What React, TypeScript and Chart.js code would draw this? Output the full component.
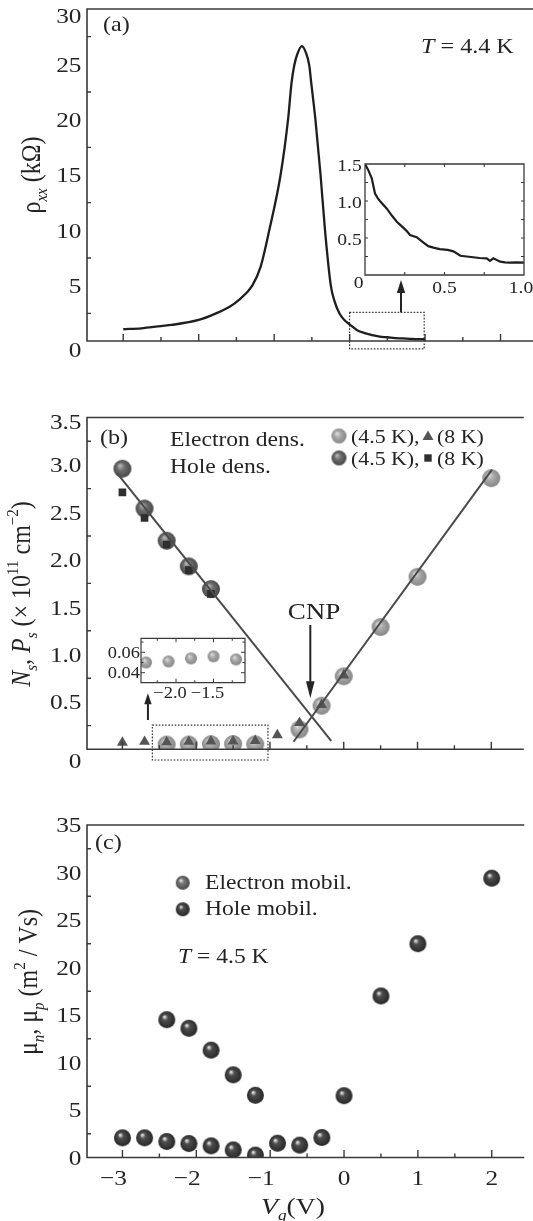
import React, { useEffect, useRef } from "react";
import { Chart, registerables } from "chart.js";

Chart.register(...registerables);

const SERIF = '"Liberation Serif", "Times New Roman", Times, serif';
const INK = "#242424";
const AXIS = "#3a3a3a";
const SX = 1.15; // horizontal stretch of the lettering in the reference

// ---------- shared gate-voltage axis (V) ----------
const VG_RANGE = [-3.48, 2.43];
const VG_TICK_LABELS = [-3, -2, -1, 0, 1, 2];
const VG_TICKS = [-3, -2.5, -2, -1.5, -1, -0.5, 0, 0.5, 1, 1.5, 2];

// ---------- (a) rho_xx vs Vg ----------
const A_VG = [-3.0, -2.76, -2.5, -2.36, -2.0, -1.77, -1.59, -1.47, -1.29, -1.18, -1.065, -0.915, -0.816, -0.77, -0.734, -0.689, -0.634, -0.576, -0.535, -0.508, -0.453, -0.385, -0.326, -0.249, -0.2, -0.136, -0.07, 0, 0.1, 0.2, 0.3, 0.4, 0.5, 0.6, 0.7, 0.8, 0.9, 1.0];
const A_RHO = [1.06, 1.15, 1.35, 1.45, 1.9, 2.5, 3.1, 3.7, 5.0, 6.7, 10.0, 15.0, 20.0, 23.3, 24.9, 26.0, 26.65, 26.0, 24.9, 23.3, 20.0, 15.0, 10.0, 5.0, 3.6, 2.5, 1.9, 1.5, 0.98, 0.72, 0.54, 0.39, 0.34, 0.26, 0.235, 0.2, 0.17, 0.167];
const A_Y_LABELS = [0, 5, 10, 15, 20, 25, 30];
const A_Y_MINOR = [2.5, 7.5, 12.5, 17.5, 22.5, 27.5];
const A_INSET_VG = [0, 0.02, 0.042, 0.063, 0.08, 0.094, 0.136, 0.17, 0.2, 0.23, 0.26, 0.283, 0.325, 0.36, 0.398, 0.43, 0.47, 0.52, 0.556, 0.6, 0.64, 0.68, 0.72, 0.765, 0.786, 0.807, 0.85, 0.88, 0.91, 0.95, 1.0];
const A_INSET_RHO = [1.5, 1.42, 1.31, 1.1, 1.04, 1.0, 0.9, 0.8, 0.72, 0.66, 0.6, 0.54, 0.51, 0.45, 0.39, 0.37, 0.35, 0.34, 0.32, 0.26, 0.25, 0.24, 0.23, 0.225, 0.19, 0.225, 0.18, 0.17, 0.167, 0.17, 0.167];
const A_INSET_Y_LABELS = [0.5, 1.0, 1.5];
const A_INSET_X_LABELS = [0.5, 1.0];
const A_INSET_TICKS = [0.25, 0.5, 0.75, 1.0, 1.25];

// ---------- (b) carrier densities (1e11 cm^-2) ----------
const B_HOLE_VG = [-3.0, -2.7, -2.4, -2.1, -1.8];
const B_HOLE_45K = [2.96, 2.54, 2.2, 1.93, 1.69];
const B_HOLE_8K = [2.71, 2.44, 2.16, 1.89, 1.64];
const B_ELEC_VG_45K = [-2.4, -2.1, -1.8, -1.5, -1.2, -0.6, -0.3, 0, 0.5, 1.0, 2.0];
const B_ELEC_45K = [0.05, 0.051, 0.054, 0.056, 0.053, 0.21, 0.46, 0.77, 1.29, 1.82, 2.86];
const B_ELEC_VG_8K = [-3.0, -2.7, -2.4, -2.1, -1.8, -1.5, -1.2, -0.9, -0.6, -0.3, 0];
const B_ELEC_8K = [0.07, 0.08, 0.075, 0.08, 0.085, 0.085, 0.09, 0.15, 0.28, 0.47, 0.78];
const B_HOLE_FIT_VG = [-3.07, -0.17];
const B_HOLE_FIT = [2.91, 0.09];
const B_ELEC_FIT_VG = [-0.68, 2.01];
const B_ELEC_FIT = [0.08, 2.95];
const B_Y_LABELS = [0, 0.5, 1.0, 1.5, 2.0, 2.5, 3.0, 3.5];
const B_Y_MINOR = [0.25, 0.75, 1.25, 1.75, 2.25, 2.75, 3.25];
const B_INSET_POINTS = 5; // the five low 4.5 K electron points
const B_INSET_Y_LABELS = [0.04, 0.06];
const B_INSET_X_LABELS = [-2.0, -1.5];
const B_INSET_X_TICKS = [-2.25, -2.0, -1.75, -1.5, -1.25];
const B_INSET_Y_TICKS = [0.04, 0.05, 0.06, 0.07];

// ---------- (c) mobilities (m^2/Vs) ----------
const C_ELEC_VG = [-2.4, -2.1, -1.8, -1.5, -1.2, -0.9, -0.6, -0.3, 0, 0.5, 1.0, 2.0];
const C_ELEC_MU = [14.5, 13.6, 11.3, 8.7, 6.55, 1.5, 1.3, 2.1, 6.5, 17.0, 22.5, 29.4];
const C_HOLE_VG = [-3.0, -2.7, -2.4, -2.1, -1.8, -1.5, -1.2];
const C_HOLE_MU = [2.07, 2.07, 1.68, 1.47, 1.23, 0.8, 0.25];
const C_Y_LABELS = [0, 5, 10, 15, 20, 25, 30, 35];
const C_Y_MINOR = [2.5, 7.5, 12.5, 17.5, 22.5, 27.5, 32.5];

// ---------- texts ----------
type Seg = { t: string; i?: boolean; sub?: boolean; sup?: boolean };
const A_TITLE: Seg[] = [{ t: "ρ" }, { t: "xx", i: true, sub: true }, { t: " (kΩ)" }];
const A_TEMP: Seg[] = [{ t: "T", i: true }, { t: " = 4.4 K" }];
const B_TITLE: Seg[] = [
  { t: "N", i: true }, { t: "s", i: true, sub: true }, { t: ", " },
  { t: "P", i: true }, { t: "s", i: true, sub: true }, { t: " (× 10" },
  { t: "11", sup: true }, { t: " cm" }, { t: "−2", sup: true }, { t: ")" },
];
const C_TITLE: Seg[] = [
  { t: "μ" }, { t: "n", i: true, sub: true }, { t: ", μ" }, { t: "p", i: true, sub: true },
  { t: " (m" }, { t: "2", sup: true }, { t: " / Vs)" },
];
const C_XTITLE: Seg[] = [{ t: "V", i: true }, { t: "g", i: true, sub: true }, { t: "(V)" }];
const C_TEMP: Seg[] = [{ t: "T", i: true }, { t: " = 4.5 K" }];

const pts = (xs: number[], ys: number[]) => xs.map((x, i) => ({ x, y: ys[i] }));
const fmt = (v: number, d: number) => (v === 0 ? "0" : (v < 0 ? "−" : "") + Math.abs(v).toFixed(d));

function rich(ctx: CanvasRenderingContext2D, segs: Seg[], x: number, y: number, size: number,
  align: "left" | "center" | "right" = "left", rot = 0, sx = SX) {
  ctx.save();
  ctx.translate(x, y);
  ctx.scale(sx, 1);
  if (rot) ctx.rotate(rot);
  ctx.fillStyle = INK;
  ctx.textBaseline = "alphabetic";
  ctx.textAlign = "left";
  const parts = segs.map((s) => {
    const fs = s.sub || s.sup ? Math.round(size * 0.62) : size;
    const font = `${s.i ? "italic " : ""}${fs}px ${SERIF}`;
    ctx.font = font;
    return { t: s.t, font, w: ctx.measureText(s.t).width, dy: s.sub ? size * 0.24 : s.sup ? -size * 0.42 : 0 };
  });
  const total = parts.reduce((a, p) => a + p.w, 0);
  let cx = align === "center" ? -total / 2 : align === "right" ? -total : 0;
  for (const p of parts) {
    ctx.font = p.font;
    ctx.fillText(p.t, cx, p.dy);
    cx += p.w;
  }
  ctx.restore();
}
const txt = (ctx: CanvasRenderingContext2D, t: string, x: number, y: number, size: number, align: "left" | "center" | "right" = "left") =>
  rich(ctx, [{ t }], x, y, size, align);

function frame(chart: any, sides: { top?: boolean; right?: boolean }, lw: number) {
  const { ctx, chartArea: a } = chart;
  ctx.save();
  ctx.strokeStyle = AXIS;
  ctx.lineWidth = lw;
  ctx.lineCap = "square";
  ctx.beginPath();
  ctx.moveTo(a.left, a.top);
  ctx.lineTo(a.left, a.bottom);
  ctx.lineTo(a.right, a.bottom);
  if (sides.right) ctx.lineTo(a.right, a.top);
  if (sides.top) {
    ctx.moveTo(a.left, a.top);
    ctx.lineTo(a.right, a.top);
  }
  ctx.stroke();
  ctx.restore();
}
function xTicks(chart: any, vals: number[], len: (v: number) => number, edges: ("top" | "bottom")[], lw: number) {
  const { ctx, chartArea: a } = chart;
  const xs = chart.scales.x;
  ctx.save();
  ctx.strokeStyle = AXIS;
  ctx.lineWidth = lw;
  ctx.beginPath();
  for (const v of vals) {
    const x = xs.getPixelForValue(v);
    const L = len(v);
    if (edges.includes("bottom")) { ctx.moveTo(x, a.bottom); ctx.lineTo(x, a.bottom - L); }
    if (edges.includes("top")) { ctx.moveTo(x, a.top); ctx.lineTo(x, a.top + L); }
  }
  ctx.stroke();
  ctx.restore();
}
function yTicks(chart: any, vals: number[], len: (v: number) => number, edges: ("left" | "right")[], lw: number) {
  const { ctx, chartArea: a } = chart;
  const ys = chart.scales.y;
  ctx.save();
  ctx.strokeStyle = AXIS;
  ctx.lineWidth = lw;
  ctx.beginPath();
  for (const v of vals) {
    const y = ys.getPixelForValue(v);
    const L = len(v);
    if (edges.includes("left")) { ctx.moveTo(a.left, y); ctx.lineTo(a.left + L, y); }
    if (edges.includes("right")) { ctx.moveTo(a.right, y); ctx.lineTo(a.right - L, y); }
  }
  ctx.stroke();
  ctx.restore();
}
function vArrow(ctx: CanvasRenderingContext2D, x: number, yTail: number, yTip: number, head: number, half: number, lw: number) {
  const dir = Math.sign(yTip - yTail);
  ctx.save();
  ctx.strokeStyle = INK;
  ctx.fillStyle = INK;
  ctx.lineWidth = lw;
  ctx.beginPath();
  ctx.moveTo(x, yTail);
  ctx.lineTo(x, yTip - dir * head * 0.7);
  ctx.stroke();
  ctx.beginPath();
  ctx.moveTo(x, yTip);
  ctx.lineTo(x - half, yTip - dir * head);
  ctx.lineTo(x + half, yTip - dir * head);
  ctx.closePath();
  ctx.fill();
  ctx.restore();
}
function dotted(ctx: CanvasRenderingContext2D, x1: number, y1: number, x2: number, y2: number) {
  ctx.save();
  ctx.strokeStyle = "#333";
  ctx.lineWidth = 1.2;
  ctx.setLineDash([1.6, 1.6]);
  ctx.strokeRect(Math.min(x1, x2), Math.min(y1, y2), Math.abs(x2 - x1), Math.abs(y2 - y1));
  ctx.restore();
}

function sphere(r: number, stops: [number, string][]) {
  const c = document.createElement("canvas");
  const s = Math.ceil(2 * r + 2);
  c.width = s;
  c.height = s;
  const g = c.getContext("2d")!;
  const cx = s / 2, cy = s / 2;
  const grad = g.createRadialGradient(cx - 0.3 * r, cy - 0.38 * r, 0, cx, cy, r * 1.02);
  for (const [o, col] of stops) grad.addColorStop(o, col);
  g.fillStyle = grad;
  g.beginPath();
  g.arc(cx, cy, r, 0, Math.PI * 2);
  g.fill();
  return c;
}
const LIGHT: [number, string][] = [[0, "#e4e4e4"], [0.45, "#a8a8a8"], [1, "#858585"]];
const MID: [number, string][] = [[0, "#c0c0c0"], [0.45, "#6c6c6c"], [1, "#464646"]];
const DARK: [number, string][] = [[0, "#ffffff"], [0.13, "#bdbdbd"], [0.33, "#4e4e4e"], [1, "#262626"]];
const DARK2: [number, string][] = [[0, "#ffffff"], [0.13, "#d0d0d0"], [0.35, "#7a7a7a"], [1, "#464646"]];

function base(pad: any, xr: number[], yr: number[]) {
  return {
    responsive: false,
    animation: false as const,
    devicePixelRatio: 1,
    events: [] as any[],
    layout: { padding: pad },
    plugins: { legend: { display: false }, tooltip: { enabled: false } },
    scales: {
      x: { type: "linear" as const, min: xr[0], max: xr[1], display: false },
      y: { type: "linear" as const, min: yr[0], max: yr[1], display: false },
    },
  };
}

function yLabels(chart: any, vals: number[], digits: number, right: number, size: number, shift: (v: number) => number) {
  const ys = chart.scales.y;
  for (const v of vals) txt(chart.ctx, fmt(v, digits), right, ys.getPixelForValue(v) + shift(v) + size * 0.34, size, "right");
}

// ---------------- panel builders ----------------
function makeA(cv: HTMLCanvasElement) {
  const OY = 0;
  return new Chart(cv, {
    type: "scatter",
    data: {
      datasets: [{
        data: pts(A_VG, A_RHO), showLine: true, borderColor: "#1e1e1e", borderWidth: 2.3,
        pointRadius: 0, cubicInterpolationMode: "monotone",
      } as any],
    },
    options: base({ left: 87, top: 9, right: 0, bottom: 39 }, VG_RANGE, [0, 30]) as any,
    plugins: [{
      id: "decoA",
      afterDraw(chart: any) {
        const ctx = chart.ctx, xs = chart.scales.x, ys = chart.scales.y;
        frame(chart, { top: true }, 1.6);
        xTicks(chart, VG_TICKS, (v) => (Number.isInteger(v) ? 7 : 4), ["bottom"], 1.4);
        yTicks(chart, A_Y_MINOR, () => 4, ["left"], 1.4);
        yLabels(chart, A_Y_LABELS, 0, 81.5, 22, (v) => (v === 30 ? 7 : v === 0 ? 9 : 0));
        rich(ctx, A_TITLE, 40, 175 - OY, 24, "center", -Math.PI / 2);
        txt(ctx, "(a)", 103, 31 - OY, 21);
        rich(ctx, A_TEMP, 421, 53 - OY, 21);
        dotted(ctx, xs.getPixelForValue(0), ys.getPixelForValue(2.59), xs.getPixelForValue(0.988), ys.getPixelForValue(-0.72));
        vArrow(ctx, xs.getPixelForValue(0.681), ys.getPixelForValue(2.59), ys.getPixelForValue(5.51), 13, 4.2, 2);
      },
    }],
  });
}

function makeAInset(cv: HTMLCanvasElement) {
  const OX = 330, OY = 150;
  return new Chart(cv, {
    type: "scatter",
    data: {
      datasets: [{
        data: pts(A_INSET_VG, A_INSET_RHO), showLine: true, borderColor: "#1e1e1e", borderWidth: 2.2,
        pointRadius: 0, tension: 0,
      } as any],
    },
    options: base({ left: 35, top: 14, right: 9, bottom: 25 }, [0, 1], [0, 1.5]) as any,
    plugins: [{
      id: "decoAI",
      afterDraw(chart: any) {
        const ctx = chart.ctx, xs = chart.scales.x;
        frame(chart, { top: true, right: true }, 1.3);
        xTicks(chart, [0.25, 0.5, 0.75], () => 3, ["bottom", "top"], 1.1);
        yTicks(chart, A_INSET_TICKS, () => 3, ["left", "right"], 1.1);
        yLabels(chart, A_INSET_Y_LABELS, 1, 361.7 - OX, 17, () => 1.5);
        txt(ctx, "0", 363.5 - OX, 288 - OY, 17, "right");
        for (const v of A_INSET_X_LABELS) txt(ctx, fmt(v, 1), xs.getPixelForValue(v) - (v === 1 ? 3 : 0), 292.5 - OY, 17, "center");
      },
    }],
  });
}

function makeB(cv: HTMLCanvasElement) {
  const OY = 380;
  const sElec = sphere(9, LIGHT), sHole = sphere(9, MID);
  const lElec = sphere(7.5, LIGHT), lHole = sphere(7.5, MID);
  return new Chart(cv, {
    type: "scatter",
    data: {
      datasets: [
        { data: pts(B_HOLE_VG, B_HOLE_45K), pointStyle: sHole, pointRadius: 9, order: 4 } as any,
        { data: pts(B_ELEC_VG_45K, B_ELEC_45K), pointStyle: sElec, pointRadius: 9, order: 4 } as any,
        { data: pts(B_HOLE_VG, B_HOLE_8K), pointStyle: "rect", pointRadius: 5.4, backgroundColor: "#2e2e2e", borderWidth: 0, pointBorderWidth: 0, order: 3 } as any,
        { data: pts(B_ELEC_VG_8K, B_ELEC_8K), pointStyle: "triangle", pointRadius: 6.3, backgroundColor: "#555555", borderWidth: 0, pointBorderWidth: 0, order: 2 } as any,
        { data: pts(B_HOLE_FIT_VG, B_HOLE_FIT), showLine: true, borderColor: "#4a4a4a", borderWidth: 2, pointRadius: 0, order: 1 } as any,
        { data: pts(B_ELEC_FIT_VG, B_ELEC_FIT), showLine: true, borderColor: "#4a4a4a", borderWidth: 2, pointRadius: 0, order: 1 } as any,
      ].map((d) => ({ ...d, clip: 0 })),
    },
    options: base({ left: 87, top: 37.5, right: 0, bottom: 50.7 }, VG_RANGE, [0, 3.5]) as any,
    plugins: [{
      id: "decoB",
      afterDraw(chart: any) {
        const ctx = chart.ctx, xs = chart.scales.x, ys = chart.scales.y;
        frame(chart, { top: true }, 1.6);
        xTicks(chart, VG_TICKS, (v) => (Number.isInteger(v) ? 7.5 : 4), ["bottom"], 1.4);
        yTicks(chart, B_Y_MINOR, () => 4, ["left"], 1.4);
        yLabels(chart, B_Y_LABELS, 1, 81.5, 22, (v) => (v === 3.5 ? 4 : v === 0 ? 11 : 0));
        rich(ctx, B_TITLE, 30, 594 - OY, 24, "center", -Math.PI / 2);
        txt(ctx, "(b)", 100, 444 - OY, 21);
        txt(ctx, "Electron dens.", 170, 446 - OY, 20.5);
        txt(ctx, "Hole dens.", 170, 473 - OY, 20.5);
        // legend
        const r1 = 436 - OY, r2 = 458 - OY;
        ctx.drawImage(lElec, 339 - lElec.width / 2, r1 - lElec.height / 2);
        ctx.drawImage(lHole, 339 - lHole.width / 2, r2 - lHole.height / 2);
        txt(ctx, "(4.5 K),", 351, r1 + 7, 19);
        txt(ctx, "(4.5 K),", 351, r2 + 7, 19);
        txt(ctx, "(8 K)", 437, r1 + 7, 19);
        txt(ctx, "(8 K)", 437, r2 + 7, 19);
        ctx.save();
        ctx.fillStyle = "#555555";
        ctx.beginPath();
        ctx.moveTo(428, r1 - 5.5);
        ctx.lineTo(433.5, r1 + 4);
        ctx.lineTo(422.5, r1 + 4);
        ctx.closePath();
        ctx.fill();
        ctx.fillStyle = "#2e2e2e";
        ctx.fillRect(424.3, r2 - 3.7, 7.4, 7.4);
        ctx.restore();
        txt(ctx, "CNP", 314, 619 - OY, 23.5, "center");
        vArrow(ctx, xs.getPixelForValue(-0.453), ys.getPixelForValue(1.311), ys.getPixelForValue(0.538), 17, 4.3, 2);
        vArrow(ctx, xs.getPixelForValue(-2.654), ys.getPixelForValue(0.309), ys.getPixelForValue(0.591), 11, 3.7, 2);
        dotted(ctx, xs.getPixelForValue(-2.594), ys.getPixelForValue(0.256), xs.getPixelForValue(-1.027), ys.getPixelForValue(-0.113));
      },
    }],
  });
}

function makeBInset(cv: HTMLCanvasElement) {
  const OX = 90, OY = 620;
  const s = sphere(6, LIGHT);
  return new Chart(cv, {
    type: "scatter",
    data: {
      datasets: [{
        data: pts(B_ELEC_VG_45K.slice(0, B_INSET_POINTS), B_ELEC_45K.slice(0, B_INSET_POINTS)),
        pointStyle: s, pointRadius: 6, clip: 0,
      } as any],
    },
    options: base({ left: 51, top: 18.3, right: 15, bottom: 27.3 }, [-2.467, -1.08], [0.0302, 0.0737]) as any,
    plugins: [{
      id: "decoBI",
      afterDraw(chart: any) {
        const ctx = chart.ctx, xs = chart.scales.x;
        frame(chart, { top: true, right: true }, 1.2);
        xTicks(chart, B_INSET_X_TICKS, (v) => (v === -2 || v === -1.5 ? 4 : 2.5), ["bottom", "top"], 1);
        yTicks(chart, B_INSET_Y_TICKS, (v) => (v === 0.04 || v === 0.06 ? 4 : 2.5), ["left", "right"], 1);
        yLabels(chart, B_INSET_Y_LABELS, 2, 140 - OX, 16, () => 0);
        for (const v of B_INSET_X_LABELS) txt(ctx, fmt(v, 1), xs.getPixelForValue(v) - 6, 697.5 - OY, 16, "center");
      },
    }],
  });
}

function makeC(cv: HTMLCanvasElement) {
  const OY = 800;
  const s = sphere(8.5, DARK);
  const lE = sphere(7, DARK2), lH = sphere(7, DARK);
  return new Chart(cv, {
    type: "scatter",
    data: {
      datasets: [
        { data: pts(C_ELEC_VG, C_ELEC_MU), pointStyle: s, pointRadius: 8.5, clip: 0 } as any,
        { data: pts(C_HOLE_VG, C_HOLE_MU), pointStyle: s, pointRadius: 8.5, clip: 0 } as any,
      ],
    },
    options: base({ left: 87, top: 25, right: 0, bottom: 63.5 }, VG_RANGE, [0, 35]) as any,
    plugins: [{
      id: "decoC",
      afterDraw(chart: any) {
        const ctx = chart.ctx, xs = chart.scales.x;
        frame(chart, { top: true }, 1.6);
        xTicks(chart, VG_TICKS, (v) => (Number.isInteger(v) ? 7.5 : 4), ["bottom"], 1.4);
        yTicks(chart, C_Y_MINOR, () => 4, ["left"], 1.4);
        yLabels(chart, C_Y_LABELS, 0, 81.5, 22, () => 0);
        for (const v of VG_TICK_LABELS) txt(ctx, fmt(v, 0), xs.getPixelForValue(v) - (v < 0 ? 9 : 0), 1185 - OY, 22, "center");
        rich(ctx, C_TITLE, 37, 982 - OY, 24, "center", -Math.PI / 2);
        rich(ctx, C_XTITLE, 293, 1214 - OY, 24, "center");
        txt(ctx, "(c)", 95, 849 - OY, 21);
        ctx.drawImage(lE, 182.7 - lE.width / 2, 882.7 - OY - lE.height / 2);
        ctx.drawImage(lH, 182.7 - lH.width / 2, 909.3 - OY - lH.height / 2);
        txt(ctx, "Electron mobil.", 205, 889 - OY, 20.5);
        txt(ctx, "Hole mobil.", 205, 915 - OY, 20.5);
        rich(ctx, C_TEMP, 178, 963 - OY, 20.5);
      },
    }],
  });
}

function Panel({ left, top, width, height, make }: { left: number; top: number; width: number; height: number; make: (c: HTMLCanvasElement) => Chart }) {
  const ref = useRef<HTMLCanvasElement>(null);
  useEffect(() => {
    const chart = make(ref.current!);
    return () => chart.destroy();
  }, [make]);
  return <canvas ref={ref} width={width} height={height} style={{ position: "absolute", left, top, width, height }} />;
}

export default function App() {
  return (
    <div style={{ position: "absolute", left: 0, top: 0, width: 533, height: 1221, background: "#fff", overflow: "hidden" }}>
      <Panel left={0} top={0} width={533} height={380} make={makeA} />
      <Panel left={330} top={150} width={203} height={150} make={makeAInset} />
      <Panel left={0} top={380} width={533} height={420} make={makeB} />
      <Panel left={90} top={620} width={170} height={90} make={makeBInset} />
      <Panel left={0} top={800} width={533} height={421} make={makeC} />
    </div>
  );
}
